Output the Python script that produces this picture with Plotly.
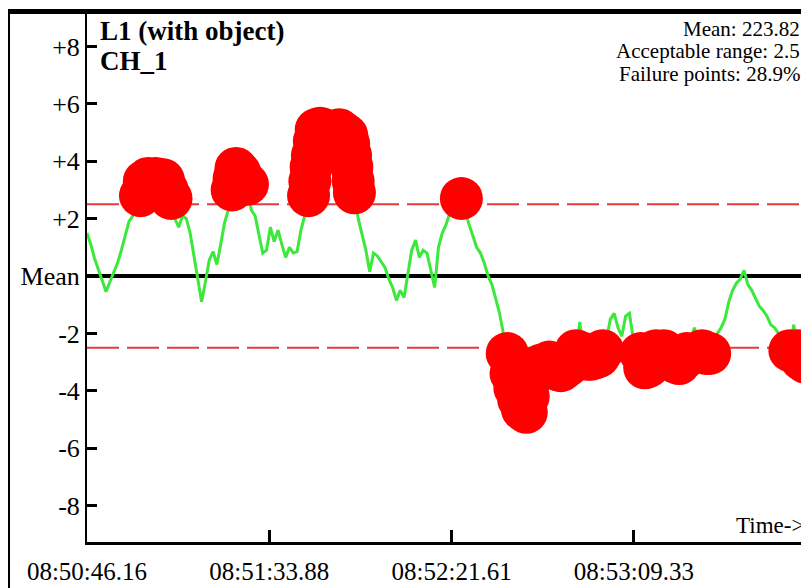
import plotly.graph_objects as go

# ---- data ----
base_t = list(range(0, 190))
base_v = [
    1.5, 1.1, 0.6, 0.2, -0.2, -0.55, -0.2, 0.15, 0.45, 0.9,
    1.4, 1.9, 2.1, 2.4, 2.8, 3.3, 3.4, 3.35, 3.4, 3.3,
    3.35, 3.0, 2.7, 2.0, 1.7, 2.1, 2.0, 1.5, 0.7, -0.1,
    -0.9, -0.2, 0.55, 0.85, 0.4, 1.1, 1.85, 2.3, 3.0, 3.75,
    3.6, 3.3, 3.2, 2.3, 2.1, 1.4, 0.8, 0.9, 1.7, 1.2,
    1.6, 1.1, 0.65, 1.0, 0.8, 0.85, 1.6, 2.1, 2.8, 4.2,
    5.1, 5.15, 5.1, 5.0, 4.8, 5.0, 5.1, 5.0, 4.9, 4.2,
    2.9, 2.0, 1.5, 0.9, 0.15, 0.8, 0.7, 0.5, 0.3, -0.1,
    -0.4, -0.85, -0.5, -0.75, 0.1, 0.9, 1.25, 0.65, 0.9, 0.8,
    0.2, -0.4, 1.0, 1.5, 1.8, 2.2, 2.4, 2.45, 2.7, 2.2,
    1.8, 1.4, 1.0, 0.8, 0.45, 0.0, -0.3, -0.8, -1.3, -2.0,
    -2.7, -3.4, -3.9, -4.3, -4.65, -4.75, -3.6, -3.3, -3.2, -3.1,
    -3.1, -3.0, -3.1, -3.25, -3.3, -3.2, -3.1, -2.9, -2.6, -1.6,
    -2.7, -2.9, -2.9, -2.85, -2.8, -2.6, -2.2, -1.5, -1.3, -1.8,
    -2.1, -1.4, -1.3, -2.2, -2.4, -2.7, -3.2, -3.15, -2.9, -2.6,
    -1.9, -2.6, -2.8, -2.9, -3.0, -3.05, -2.9, -2.7, -2.2, -1.8,
    -2.3, -2.6, -2.7, -2.7, -2.3, -2.0, -1.8, -1.5, -0.9, -0.5,
    -0.25, -0.1, 0.2, -0.3, -0.5, -0.8, -1.05, -1.2, -1.4, -1.7,
    -1.8, -2.0, -2.2, -2.4, -2.6, -1.7, -2.6, -2.9, -3.0, -3.0,
]
# extra in-between samples (seconds, value) on the steep edges
extra_t = [38.5, 58.33, 58.67, 59.5, 68.5, 69.33, 69.67, 115.5]
extra_v = [3.4, 3.3, 3.8, 4.7, 4.6, 3.8, 3.3, -4.2]

acceptable_range = 2.5
tick_times = [0, 47.72, 95.45, 143.17]
tick_time_labels = ["08:50:46.16", "08:51:33.88", "08:52:21.61", "08:53:09.33"]
y_tick_vals = [-8, -6, -4, -2, 0, 2, 4, 6, 8]
y_tick_text = ["-8", "-6", "-4", "-2", "Mean", "+2", "+4", "+6", "+8"]
title_lines = ["L1 (with object)", "CH_1"]
info_lines = ["Mean: 223.82", "Acceptable range: 2.5", "Failure points: 28.9%"]

samples = sorted(zip(base_t + extra_t, base_v + extra_v))
t_seconds = [s[0] for s in samples]
values = [s[1] for s in samples]
fail_t = [t for t, v in samples if abs(v) > acceptable_range]
fail_v = [v for t, v in samples if abs(v) > acceptable_range]

# page body has an 8px margin: figure is drawn 8px right/down of window origin
OFF = 8
W, H = 809 - OFF, 588 - OFF
L, R, T, B = 87 - OFF, 0, 14 - OFF, 46
PW, PH = W - L - R, H - T - B


def px(x):  # window pixel -> paper x
    return (x - OFF - L) / PW


def py(y):  # window pixel -> paper y
    return (H - B - (y - OFF)) / PH


SERIF = "Liberation Serif, Times New Roman, serif"

fig = go.Figure()
fig.add_trace(go.Scatter(x=t_seconds, y=values, mode="lines",
                         line=dict(color="#3be83b", width=3), hoverinfo="skip"))
fig.add_trace(go.Scatter(x=fail_t, y=fail_v, mode="markers",
                         marker=dict(color="#ff0000", size=43, line=dict(width=0)),
                         hoverinfo="skip"))

x_max = 189.0
shapes = [
    dict(type="line", xref="x", yref="y", x0=0, x1=x_max, y0=0, y1=0,
         line=dict(color="black", width=4), layer="below"),
    dict(type="line", xref="x", yref="y", x0=0, x1=x_max, y0=acceptable_range, y1=acceptable_range,
         line=dict(color="#e03c3c", width=2, dash="32px,8px"), layer="below"),
    dict(type="line", xref="x", yref="y", x0=0, x1=x_max, y0=-acceptable_range, y1=-acceptable_range,
         line=dict(color="#e03c3c", width=2, dash="32px,8px"), layer="below"),
    # frame
    dict(type="line", xref="paper", yref="paper", x0=px(6), x1=px(815), y0=py(11.5), y1=py(11.5),
         line=dict(color="black", width=5)),
    dict(type="line", xref="paper", yref="paper", x0=px(8.5), x1=px(8.5), y0=py(9), y1=py(600),
         line=dict(color="black", width=3)),
]

annotations = [
    dict(text="<b>%s</b>" % title_lines[0], x=px(98), y=py(31), xref="paper", yref="paper",
         xanchor="left", yanchor="middle", showarrow=False, font=dict(family=SERIF, size=27, color="black")),
    dict(text="<b>%s</b>" % title_lines[1], x=px(98), y=py(61), xref="paper", yref="paper",
         xanchor="left", yanchor="middle", showarrow=False, font=dict(family=SERIF, size=27, color="black")),
    dict(text="Time->", x=px(806), y=py(525), xref="paper", yref="paper",
         xanchor="right", yanchor="middle", showarrow=False, font=dict(family=SERIF, size=23, color="black")),
]
for i, line in enumerate(info_lines):
    annotations.append(dict(text=line, x=px(802), y=py(28.5 + 22.5 * i), xref="paper", yref="paper",
                            xanchor="right", yanchor="middle", showarrow=False,
                            font=dict(family=SERIF, size=21, color="black")))

fig.update_layout(
    width=W, height=H,
    margin=dict(l=L, r=R, t=T, b=B, pad=0, autoexpand=False),
    paper_bgcolor="white", plot_bgcolor="white",
    showlegend=False,
    shapes=shapes, annotations=annotations,
    xaxis=dict(range=[0, x_max], tickvals=tick_times, ticktext=tick_time_labels,
               ticks="inside", ticklen=12, tickwidth=3, tickcolor="black",
               showline=True, linecolor="black", linewidth=3,
               showgrid=False, zeroline=False, automargin=False,
               tickfont=dict(family=SERIF, size=25, color="black"),
               ticklabelstandoff=5),
    yaxis=dict(range=[-9.268, 9.129], tickvals=y_tick_vals, ticktext=y_tick_text,
               ticks="inside", ticklen=10, tickwidth=3, tickcolor="black",
               showline=True, linecolor="black", linewidth=2,
               showgrid=False, zeroline=False, automargin=False,
               tickfont=dict(family=SERIF, size=26, color="black")),
)

fig.write_html("out.html")
